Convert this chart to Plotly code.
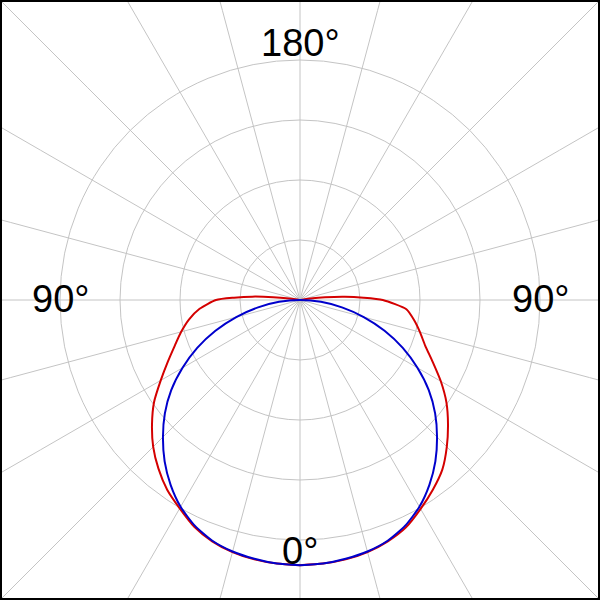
import plotly.graph_objects as go
import math

# Gamma angles (degrees from nadir) and luminous intensity values (relative units)
gamma_red = [0, 5, 10, 15, 20, 25, 30, 35, 40, 45, 50, 55, 60, 65, 70, 75, 80, 85, 90, 92, 94, 96, 98, 100, 105]
red_c0 = [442, 441, 439, 435, 428, 417, 401, 386, 367, 346, 322, 297, 268, 243, 222, 205, 188, 168, 140, 110, 80, 45, 18, 5, 0]
red_c180 = [442, 441, 439, 435, 428, 418, 402, 386, 369, 346, 322, 298, 271, 244, 222, 207, 193, 178, 138, 106, 75, 42, 17, 6, 0]

gamma_blue = [0, 5, 10, 15, 20, 25, 30, 35, 40, 45, 50, 55, 60, 65, 70, 75, 80, 85, 90]
blue_c0 = [442, 441, 438, 434, 427, 415, 398, 376, 351, 323, 294, 262, 226, 189, 150, 110, 71, 35, 0]
blue_c180 = [442, 441, 438, 434, 427, 415, 398, 376, 351, 323, 294, 262, 226, 189, 150, 110, 71, 35, 0]

angle_labels = ["180°", "90°", "90°", "0°"]


def closed_curve(gammas, left, right):
    th = [360 - g for g in reversed(gammas)] + list(gammas)
    r = list(reversed(right)) + list(left)
    return r, th


fig = go.Figure()
r, th = closed_curve(gamma_red, red_c0, red_c180)
fig.add_trace(go.Scatterpolar(r=r, theta=th, mode="lines",
                              line=dict(color="#d40000", width=2, shape="spline", smoothing=0.6),
                              hoverinfo="skip", showlegend=False))
r, th = closed_curve(gamma_blue, blue_c0, blue_c180)
fig.add_trace(go.Scatterpolar(r=r, theta=th, mode="lines",
                              line=dict(color="#0000cc", width=2, shape="spline", smoothing=0.6),
                              hoverinfo="skip", showlegend=False))

grid_col = "#c4c4c4"
shapes = []
# extend radial grid lines beyond polar circle to frame edges
for k in range(24):
    phi = math.radians(k * 15)
    c, s = math.cos(phi), math.sin(phi)
    shapes.append(dict(type="line", xref="paper", yref="paper", layer="below",
                       x0=0.5 + 0.5 * c, y0=0.5 + 0.5 * s,
                       x1=0.5 + 0.75 * c, y1=0.5 + 0.75 * s,
                       line=dict(color=grid_col, width=1)))
# frame
shapes.append(dict(type="rect", xref="paper", yref="paper", x0=0, y0=0, x1=1, y1=1,
                   line=dict(color="black", width=4), layer="above"))

label_pos = [(0.5, 1 - 43 / 600), (60 / 600, 1 - 299 / 600), (540 / 600, 1 - 299 / 600), (0.5, 1 - 551 / 600)]
annotations = []
for txt, (x, y) in zip(angle_labels, label_pos):
    annotations.append(dict(text=txt, x=x, y=y, xref="paper", yref="paper", showarrow=False,
                            xanchor="center", yanchor="middle",
                            font=dict(family="Liberation Sans, Arial", size=38, color="black")))

fig.update_layout(
    width=600, height=600,
    margin=dict(l=0, r=0, t=0, b=0),
    paper_bgcolor="white",
    polar=dict(
        domain=dict(x=[0, 1], y=[0, 1]),
        bgcolor="white",
        radialaxis=dict(range=[0, 500], dtick=100, showticklabels=False, ticks="",
                        showline=False, gridcolor=grid_col, gridwidth=1),
        angularaxis=dict(rotation=-90, direction="clockwise", dtick=15, showticklabels=False,
                         ticks="", showline=False, gridcolor=grid_col, gridwidth=1),
    ),
    shapes=shapes,
    annotations=annotations,
)

fig.write_html("out.html", config={"displayModeBar": False},
               post_script="document.body.style.margin='0';document.body.style.overflow='hidden';")
